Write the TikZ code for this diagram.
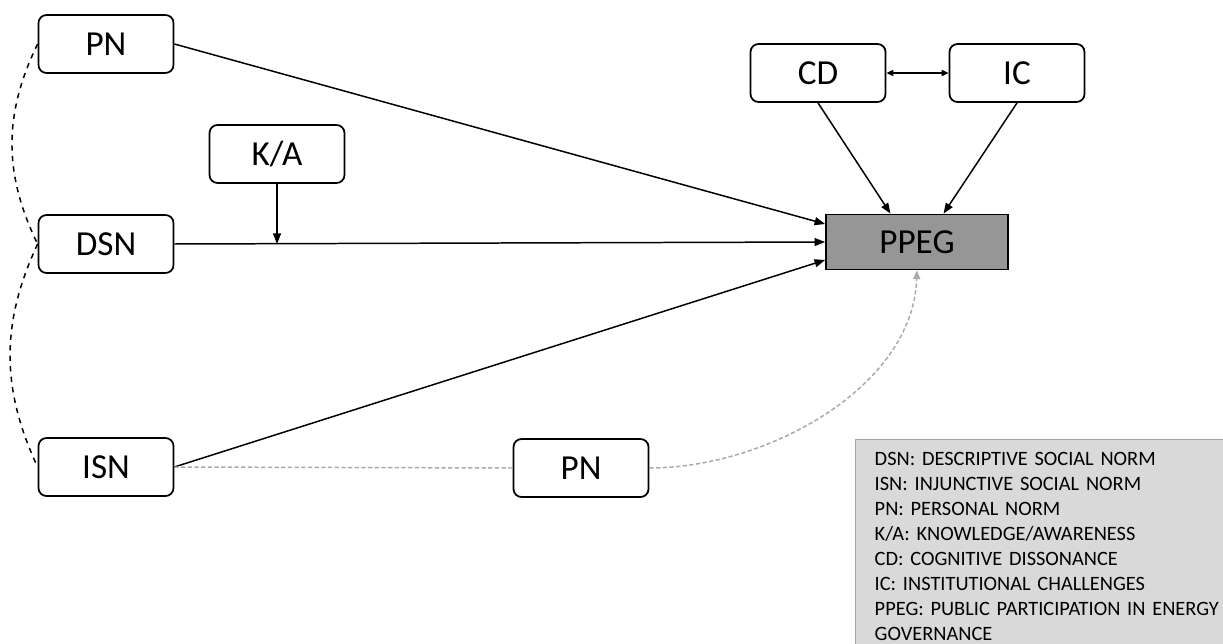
\documentclass[tikz,border=0pt]{standalone}
\usepackage{fontspec}
\setmainfont{Carlito}
\usetikzlibrary{arrows.meta}
\definecolor{ppeggray}{RGB}{150,150,150}
\definecolor{legendgray}{RGB}{217,217,217}
\definecolor{legendline}{RGB}{165,165,165}
\definecolor{linkgray}{RGB}{170,170,170}

\begin{document}
\begin{tikzpicture}[
  normbox/.style={rectangle, draw, rounded corners=0.16cm, line width=1pt, minimum height=1.16cm, minimum width=2.7cm, font=\fontsize{20}{24}\selectfont},
  arr/.style={-{Triangle[length=6pt, width=4.5pt]}, line width=0.85pt},
  normlink/.style={dashed, line width=0.85pt},
  greylink/.style={linkgray, dash pattern=on 2.4pt off 1.4pt, line width=0.85pt}
]
  \useasboundingbox (0,0) rectangle (24.46,-12.88);
  % Nodes
  \node (PN) [normbox] at (2.12, -0.88) {PN};
  \node (DSN) [normbox] at (2.12, -4.88) {DSN};
  \node (ISN) [normbox] at (2.12, -9.34) {ISN};
  \node (KA) [normbox] at (5.54, -3.08) {K/A};
  \node (CD) [normbox] at (16.36, -1.46) {CD};
  \node (IC) [normbox] at (20.34, -1.46) {IC};
  \node (PNlow) [normbox] at (11.62, -9.36) {PN};
  \node (PPEG) [rectangle, draw, fill=ppeggray, line width=1pt, minimum height=1.1cm, minimum width=3.64cm, font=\fontsize{20}{24}\selectfont] at (18.34, -4.84) {PPEG};
  % Arrows
  \draw[arr] (PN.east) -- ([yshift=0.36cm]PPEG.west);
  \draw[arr] (DSN.east) -- (PPEG.west);
  \draw[arr] (ISN.east) -- ([yshift=-0.36cm]PPEG.west);
  \draw[arr] (KA.south) -- (KA.south |- DSN.east);
  \draw[arr] (CD.south) -- ([xshift=-0.53cm]PPEG.north);
  \draw[arr] (IC.south) -- ([xshift=0.53cm]PPEG.north);
  \draw[{Triangle[length=4pt, width=3.5pt]}-{Triangle[length=4pt, width=3.5pt]}, line width=0.85pt] (CD.east) -- (IC.west);
  % Dashed lines
  \draw[normlink] (PN.west) to[bend right=26] (DSN.west);
  \draw[normlink] (DSN.west) to[bend right=25] (ISN.west);
  \draw[greylink] (ISN.east) -- (PNlow.west);
  \draw[greylink, -{Triangle[length=5pt, width=4pt]}] (PNlow.east) to[out=0, in=-92, looseness=0.9] (PPEG.south);
  % Legend
  \node (legend) [rectangle, draw=legendline, fill=legendgray, line width=0.8pt, anchor=north west, align=left, inner xsep=0.38cm, inner ysep=0.25cm, text width=7.3cm, font=\fontsize{11.6}{14.2}\selectfont] at (17.1, -8.78) {DSN: DESCRIPTIVE SOCIAL NORM\\ISN: INJUNCTIVE SOCIAL NORM\\PN: PERSONAL NORM\\K/A: KNOWLEDGE/AWARENESS\\CD: COGNITIVE DISSONANCE\\IC: INSTITUTIONAL CHALLENGES\\PPEG: PUBLIC PARTICIPATION IN ENERGY\\GOVERNANCE};
\end{tikzpicture}
\end{document}
